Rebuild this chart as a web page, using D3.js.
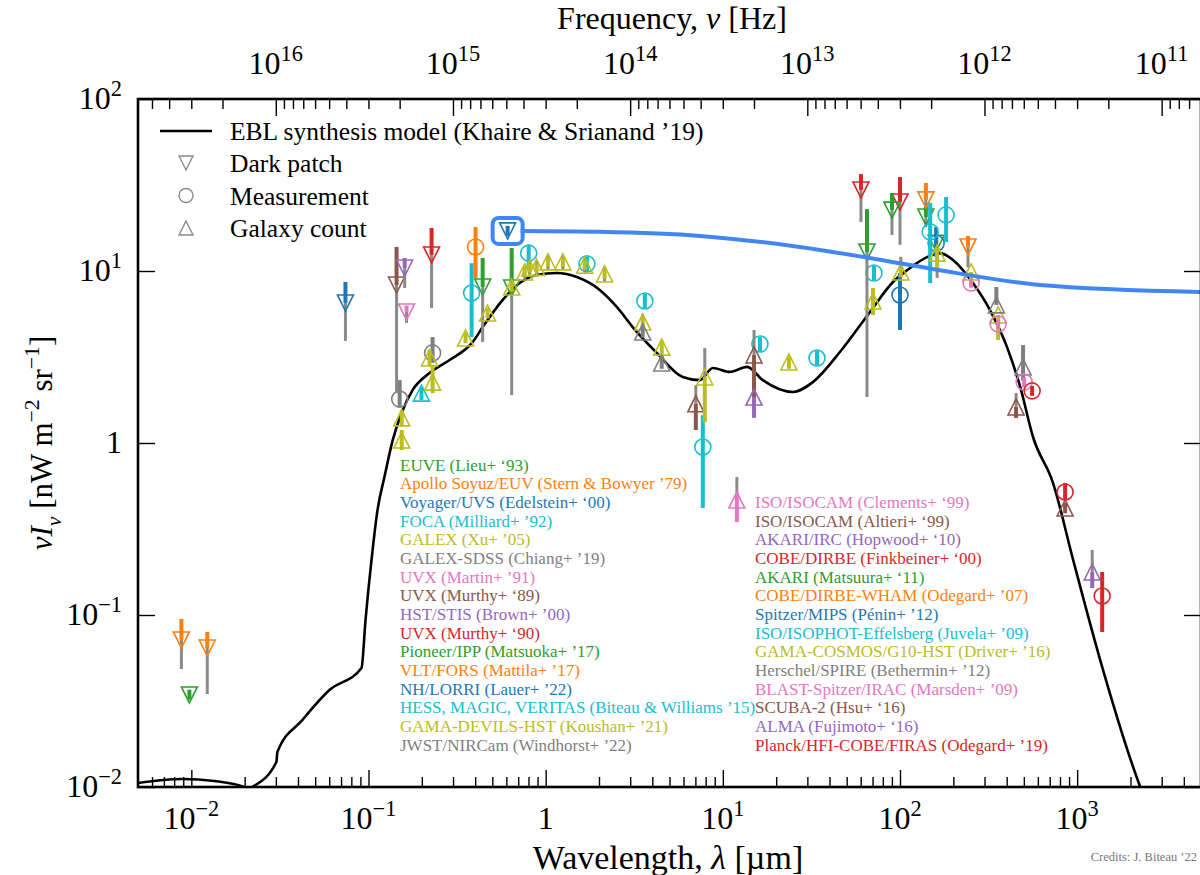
<!DOCTYPE html>
<html>
<head>
<meta charset="utf-8">
<script src="https://cdn.jsdelivr.net/npm/d3@7"></script>
<style>
  body { margin: 0; background: #fff; }
  svg text { font-family: "Liberation Serif", "DejaVu Serif", serif; }
</style>
</head>
<body>
<svg id="chart" width="1200" height="875"></svg>
<script>
// EBL synthesis model (Khaire & Srianand '19): wavelength [µm] / nuInu [nW m^-2 sr^-1]
const modelLambda = [0.00495, 0.00889, 0.0135, 0.0199, 0.021, 0.0221, 0.0302, 0.0306, 0.0424, 0.0602,
  0.0913, 0.0962, 0.104, 0.1124, 0.123, 0.137, 0.1536, 0.1773, 0.221, 0.287, 0.387, 0.441, 0.571,
  0.713, 0.889, 1.154, 1.50, 2.02, 2.52, 3.10, 4.24, 5.94, 7.41, 8.78, 10.96, 13.7, 16.8, 24.9, 32.2,
  45.8, 67.7, 91.3, 109.6, 142, 168, 199, 258, 322, 402, 477, 564, 731, 949, 1349, 2270, 2600];
const modelValues = [0.01054, 0.01114, 0.01084, 0.0100, 0.0097, 0.0100, 0.01397, 0.01596, 0.02455, 0.0366,
  0.0492, 0.0935, 0.209, 0.407, 0.634, 1.04, 1.49, 2.03, 2.55, 3.04, 3.86, 4.72, 6.78,
  8.51, 9.48, 9.73, 9.22, 7.76, 6.18, 4.72, 3.34, 2.42, 2.32, 2.73, 2.59, 2.77, 2.32, 1.98, 2.26,
  3.38, 5.78, 8.63, 10.1, 12.05, 12.7, 11.6, 8.51, 5.93, 3.61, 2.12, 1.08, 0.585, 0.209, 0.0547, 0.0100, 0.0070];

// highlight track leaving the NH/LORRI point
const trackLambda = [0.722, 2.02, 7.41, 27.2, 100, 168, 618, 5000];
const trackValues = [17.1, 16.9, 16.0, 13.8, 11.1, 10.1, 8.29, 7.55];

// points: [lambda, value, statLow, statHigh, sysLow, sysHigh]
const euveLieu93 = [[0.00975, 0.0343, 0.0322, 0.0368, null, null]];
const apolloStern79 = [[0.00879, 0.0716, 0.0716, 0.0948, 0.0485, 0.0716], [0.0123, 0.0643, 0.0643, 0.0797, 0.0347, 0.0643]];
const voyagerEdelstein00 = [[0.0741, 6.52, 6.52, 8.63, 3.92, 6.52]];
const focaMilliard92 = [[0.199, 1.95, 1.78, 2.10, null, null]];
const galexXu05 = [[0.154, 1.04, 0.91, 1.19, null, null], [0.230, 2.26, 1.95, 2.84, null, null]];
const galexSdssChiang19 = [[0.150, 1.80, 1.62, 2.32, null, null], [0.230, 3.34, 2.92, 4.13, null, null]];
const uvxMartin91 = [[0.164, 5.78, 5.78, 6.30, 4.99, 5.78]];
const uvxMurthy89 = [[0.144, 8.29, 8.29, 13.8, 1.95, 8.29]];
const stisBrown00 = [[0.160, 10.4, 10.4, 11.9, 7.96, 10.4]];
const uvxMurthy90 = [[0.227, 12.4, 12.4, 17.8, 6.09, 12.4]];
const pioneerMatsuoka17 = [[0.441, 8.07, 8.07, 11.9, 3.87, 8.07], [0.643, 7.96, 7.96, 13.6, 1.90, 7.96]];
const forsMattila17 = [[0.402, 13.8, 9.11, 18.0, null, null]];
const lorriLauer22 = [[0.610, 17.1, 16.0, 18.3, null, null]];
const gammaBiteau15 = [[0.382, 7.45, 4.13, 11.1, null, null], [0.802, 12.7, 10.4, 14.2, null, null],
  [1.71, 11.0, 10.0, 12.1, null, null], [3.63, 6.69, 6.10, 7.35, null, null], [7.71, 0.948, 0.419, 1.45, null, null],
  [16.2, 3.76, 3.42, 4.13, null, null], [34.0, 3.12, 2.84, 3.43, null, null], [71.3, 9.73, 8.86, 10.7, null, null]];
const devilsKoushan21 = [[0.154, 1.40, 1.25, 1.55, null, null], [0.221, 3.12, 2.80, 3.50, null, null],
  [0.353, 4.08, 3.80, 4.40, null, null], [0.470, 5.70, 5.30, 6.10, null, null], [0.761, 9.87, 9.30, 10.5, 9.00, 10.6],
  [0.889, 10.5, 9.90, 11.1, 9.50, 11.5], [1.25, 11.3, 10.6, 12.0, 10.2, 12.4], [2.15, 9.61, 9.00, 10.2, 8.70, 10.6],
  [3.53, 5.05, 4.70, 5.40, 4.60, 5.60], [4.52, 3.61, 3.30, 3.90, null, null]];
const nircamWindhorst22 = [[3.53, 4.42, 4.10, 4.80, null, null], [4.52, 2.92, 2.70, 3.20, null, null]];
const isocamClements99 = [[12.0, 0.466, 0.347, 0.512, 0.512, 0.634]];
const isocamAltieri99 = [[7.04, 1.69, 1.19, 1.69, 1.69, 2.17], [15.0, 3.25, 1.85, 3.25, 3.25, 4.54]];
const ircHopwood10 = [[15.0, 1.85, 1.40, 1.85, null, null]];
const dirbeFinkbeiner00 = [[60.2, 29.6, 29.6, 36.6, 19.3, 29.6], [100, 25.2, 25.2, 35.2, 14.2, 25.2]];
const akariMatsuura11 = [[65.1, 12.9, 12.9, 22.9, 1.85, 12.9], [90.1, 22.6, 22.6, 28.4, 16.2, 22.6],
  [140, 20.6, 20.6, 24.9, 18.0, 20.6], [160, 14.5, 14.5, 16.5, null, null]];
const whamOdegard07 = [[140, 25.9, 25.9, 32.5, 23.5, 25.9], [242, 13.8, 13.8, 16.0, 10.5, 13.8]];
const mipsPenin12 = [[100, 7.25, 4.54, 9.73, null, null], [160, 14.5, 12.1, 18.0, null, null]];
const isophotJuvela09 = [[148, 16.9, 8.51, 24.9, null, null], [182, 21.2, 14.7, 26.9, null, null]];
const g10Driver16 = [[0.643, 8.07, 7.60, 8.60, null, null], [0.812, 10.4, 9.80, 11.0, 9.60, 11.2],
  [1.03, 11.3, 10.6, 12.0, 10.2, 12.4], [1.66, 10.8, 10.1, 11.5, 9.80, 11.9], [7.91, 2.42, 1.32, 2.42, 2.42, 3.57],
  [23.6, 2.96, 2.70, 3.20, null, null], [70.4, 6.69, 5.55, 7.96, null, null], [101, 9.87, 9.20, 10.5, 9.87, 12.1],
  [162, 12.7, 10.4, 13.6, 9.11, 12.7], [252, 9.87, 8.07, 9.87, null, null], [358, 5.55, 3.97, 5.55, null, null]];
const spireBethermin12 = [[350, 6.35, 6.35, 8.07, null, null], [495, 2.77, 2.30, 3.71, null, null]];
const blastMarsden09 = [[252, 8.51, 8.00, 9.00, null, null], [358, 4.92, 4.60, 5.20, null, null], [502, 2.26, 2.10, 2.40, null, null]];
const scubaHsu16 = [[452, 1.62, 1.40, 1.62, 1.62, 1.95], [855, 0.419, 0.390, 0.450, null, null]];
const almaFujimoto16 = [[1216, 0.178, 0.1435, 0.178, 0.178, 0.239]];
const planckOdegard19 = [[557, 2.01, 1.88, 2.15, null, null], [855, 0.519, 0.466, 0.585, null, null], [1384, 0.129, 0.0797, 0.178, null, null]];

const seriesNames = [
  'EUVE (Lieu+ ‘93)', 'Apollo Soyuz/EUV (Stern & Bowyer ’79)', 'Voyager/UVS (Edelstein+ ‘00)',
  'FOCA (Milliard+ ’92)', 'GALEX (Xu+ ’05)', 'GALEX-SDSS (Chiang+ ’19)', 'UVX (Martin+ ’91)',
  'UVX (Murthy+ ‘89)', 'HST/STIS (Brown+ ’00)', 'UVX (Murthy+ ‘90)', 'Pioneer/IPP (Matsuoka+ ’17)',
  'VLT/FORS (Mattila+ ’17)', 'NH/LORRI (Lauer+ ’22)', 'HESS, MAGIC, VERITAS (Biteau & Williams ’15)',
  'GAMA-DEVILS-HST (Koushan+ ’21)', 'JWST/NIRCam (Windhorst+ ’22)',
  'ISO/ISOCAM (Clements+ ‘99)', 'ISO/ISOCAM (Altieri+ ‘99)', 'AKARI/IRC (Hopwood+ ‘10)',
  'COBE/DIRBE (Finkbeiner+ ‘00)', 'AKARI (Matsuura+ ‘11)', 'COBE/DIRBE-WHAM (Odegard+ ’07)',
  'Spitzer/MIPS (Pénin+ ’12)', 'ISO/ISOPHOT-Effelsberg (Juvela+ ’09)', 'GAMA-COSMOS/G10-HST (Driver+ ’16)',
  'Herschel/SPIRE (Bethermin+ ’12)', 'BLAST-Spitzer/IRAC (Marsden+ ’09)', 'SCUBA-2 (Hsu+ ‘16)',
  'ALMA (Fujimoto+ ‘16)', 'Planck/HFI-COBE/FIRAS (Odegard+ ’19)'];
// v = dark patch (upper limit), o = measurement, ^ = galaxy count (lower limit)
const seriesKinds = ['v', 'v', 'v', '^', '^', 'o', 'v', 'v', 'v', 'v', 'v', 'o', 'v', 'o', '^', '^',
  '^', '^', '^', 'v', 'v', 'v', 'o', 'o', '^', '^', 'o', '^', '^', 'o'];
const seriesPoints = [euveLieu93, apolloStern79, voyagerEdelstein00, focaMilliard92, galexXu05,
  galexSdssChiang19, uvxMartin91, uvxMurthy89, stisBrown00, uvxMurthy90, pioneerMatsuoka17,
  forsMattila17, lorriLauer22, gammaBiteau15, devilsKoushan21, nircamWindhorst22,
  isocamClements99, isocamAltieri99, ircHopwood10, dirbeFinkbeiner00, akariMatsuura11,
  whamOdegard07, mipsPenin12, isophotJuvela09, g10Driver16, spireBethermin12, blastMarsden09,
  scubaHsu16, almaFujimoto16, planckOdegard19];

const legendKinds = ['Dark patch', 'Measurement', 'Galaxy count'];
const lamTickLabels = ['10^−2', '10^−1', '1', '10^1', '10^2', '10^3'];
const lamTicks = [1e-2, 1e-1, 1, 10, 100, 1000];
const nuTickLabels = ['10^16', '10^15', '10^14', '10^13', '10^12', '10^11'];
const nuTicks = [1e16, 1e15, 1e14, 1e13, 1e12, 1e11];
const yTickLabels = ['10^−2', '10^−1', '1', '10^1', '10^2'];
const yTicks = [1e-2, 1e-1, 1, 10, 100];

// ---- layout
const box = { left: 138, right: 1201, top: 99, bottom: 787 };
const palette = ['#2ca02c', '#ff7f0e', '#1f77b4', '#17becf', '#bcbd22', '#7f7f7f', '#e377c2', '#8c564b', '#9467bd', '#d62728'];
const sysColor = '#8a8a8a';
const C_UM = 2.998e14; // speed of light, µm/s
const tickFont = 32;

const svg = d3.select('#chart');

const x = d3.scaleLog().domain([5e-3, 5e3]).range([box.left, box.right]);
const y = d3.scaleLog().domain([1e-2, 1e2]).range([box.bottom, box.top]);
const xNu = d3.scaleLog().domain([C_UM / 5e-3, C_UM / 5e3]).range([box.left, box.right]);

svg.append('clipPath').attr('id', 'plot-clip')
  .append('rect')
  .attr('x', box.left).attr('y', box.top)
  .attr('width', box.right - box.left).attr('height', box.bottom - box.top);

// rich text helper: parts with sup/sub/italic
function richText(sel, parts) {
  let shift = 0;
  parts.forEach(p => {
    const target = p.sup ? -0.42 : p.sub ? 0.28 : 0;
    const fs = (p.sup || p.sub) ? 0.7 : 1;
    const ts = sel.append('tspan').text(p.t);
    if (p.it) ts.attr('font-style', 'italic');
    if (fs !== 1) ts.attr('font-size', '70%');
    if (target !== shift) ts.attr('dy', ((target - shift) / fs).toFixed(3) + 'em');
    shift = target;
  });
}
function powParts(label) {
  const [b, e] = label.split('^');
  return e ? [{ t: b }, { t: e, sup: true }] : [{ t: b }];
}

// ---- minor tick values
const lamMinor = [];
for (let e = -3; e <= 3; e++) for (let m = 2; m <= 9; m++) {
  const v = m * Math.pow(10, e);
  if (v > 5e-3 && v < 5e3) lamMinor.push(v);
}
const nuMinor = [];
for (let e = 10; e <= 16; e++) for (let m = 2; m <= 9; m++) {
  const v = m * Math.pow(10, e);
  if (v < C_UM / 5e-3 && v > C_UM / 5e3) nuMinor.push(v);
}

function styleAxis(g) {
  g.select('.domain').remove();
  g.selectAll('.tick line').attr('stroke', '#000').attr('stroke-width', 1.4);
}

// bottom
svg.append('g').attr('transform', `translate(0,${box.bottom})`)
  .call(d3.axisBottom(x).tickValues(lamTicks).tickSizeInner(-17).tickSizeOuter(0).tickFormat(''))
  .call(styleAxis);
svg.append('g').attr('transform', `translate(0,${box.bottom})`)
  .call(d3.axisBottom(x).tickValues(lamMinor).tickSizeInner(-10).tickSizeOuter(0).tickFormat(''))
  .call(styleAxis);
// top
svg.append('g').attr('transform', `translate(0,${box.top})`)
  .call(d3.axisTop(xNu).tickValues(nuTicks).tickSizeInner(-17).tickSizeOuter(0).tickFormat(''))
  .call(styleAxis);
svg.append('g').attr('transform', `translate(0,${box.top})`)
  .call(d3.axisTop(xNu).tickValues(nuMinor).tickSizeInner(-10).tickSizeOuter(0).tickFormat(''))
  .call(styleAxis);
// left / right
svg.append('g').attr('transform', `translate(${box.left},0)`)
  .call(d3.axisLeft(y).tickValues(yTicks).tickSizeInner(-17).tickSizeOuter(0).tickFormat(''))
  .call(styleAxis);
svg.append('g').attr('transform', `translate(${box.right},0)`)
  .call(d3.axisRight(y).tickValues(yTicks).tickSizeInner(-17).tickSizeOuter(0).tickFormat(''))
  .call(styleAxis);

// tick labels
lamTicks.forEach((v, i) => {
  const t = svg.append('text').attr('x', x(v)).attr('y', 829)
    .attr('text-anchor', 'middle').attr('font-size', tickFont);
  richText(t, powParts(lamTickLabels[i]));
});
nuTicks.forEach((v, i) => {
  const t = svg.append('text').attr('x', xNu(v)).attr('y', 74)
    .attr('text-anchor', 'middle').attr('font-size', tickFont);
  richText(t, powParts(nuTickLabels[i]));
});
yTicks.forEach((v, i) => {
  const t = svg.append('text').attr('x', 122).attr('y', y(v) + 10)
    .attr('text-anchor', 'end').attr('font-size', tickFont);
  richText(t, powParts(yTickLabels[i]));
});

// axis titles
richText(svg.append('text').attr('x', 668).attr('y', 869).attr('text-anchor', 'middle').attr('font-size', 34),
  [{ t: 'Wavelength, ' }, { t: 'λ', it: true }, { t: ' [µm]' }]);
richText(svg.append('text').attr('x', 672).attr('y', 29).attr('text-anchor', 'middle').attr('font-size', 32),
  [{ t: 'Frequency, ' }, { t: 'ν', it: true }, { t: ' [Hz]' }]);
richText(svg.append('text').attr('transform', 'translate(52,443) rotate(-90)').attr('text-anchor', 'middle').attr('font-size', 31),
  [{ t: 'ν', it: true }, { t: 'I', it: true }, { t: 'ν', it: true, sub: true }, { t: ' [nW m' }, { t: '−2', sup: true },
   { t: ' sr' }, { t: '−1', sup: true }, { t: ']' }]);

svg.append('text').attr('x', 1197).attr('y', 861).attr('text-anchor', 'end')
  .attr('font-size', 12.5).attr('fill', '#777').text('Credits: J. Biteau ’22');

// ---- model curve
const line = d3.line().x(d => x(d[0])).y(d => y(d[1])).curve(d3.curveMonotoneX);
svg.append('path')
  .datum(modelLambda.map((l, i) => [l, modelValues[i]]))
  .attr('clip-path', 'url(#plot-clip)')
  .attr('d', line)
  .attr('fill', 'none').attr('stroke', '#000').attr('stroke-width', 2.6);

// ---- markers
function markerPath(kind, s) {
  if (kind === 'v') return `M${-s},${-s}L${s},${-s}L0,${s}Z`;
  if (kind === '^') return `M0,${-s}L${s},${s}L${-s},${s}Z`;
  return d3.arc()({ innerRadius: 0, outerRadius: s, startAngle: 0, endAngle: 2 * Math.PI });
}

const dataLayer = svg.append('g').attr('clip-path', 'url(#plot-clip)');
seriesPoints.forEach((pts, i) => {
  const col = palette[i % palette.length];
  const g = dataLayer.append('g');
  g.selectAll('line.sys').data(pts.filter(p => p[4] != null)).join('line')
    .attr('class', 'sys')
    .attr('x1', p => x(p[0])).attr('x2', p => x(p[0]))
    .attr('y1', p => y(p[4])).attr('y2', p => y(p[5]))
    .attr('stroke', sysColor).attr('stroke-width', 3);
  g.selectAll('line.stat').data(pts.filter(p => p[2] != null)).join('line')
    .attr('class', 'stat')
    .attr('x1', p => x(p[0])).attr('x2', p => x(p[0]))
    .attr('y1', p => y(p[2])).attr('y2', p => y(p[3]))
    .attr('stroke', col).attr('stroke-width', 4);
  g.selectAll('path.mk').data(pts).join('path')
    .attr('class', 'mk')
    .attr('transform', p => `translate(${x(p[0])},${y(p[1])})`)
    .attr('d', markerPath(seriesKinds[i], 8))
    .attr('fill', 'none').attr('stroke', col).attr('stroke-width', 1.6);
});

// ---- highlight on NH/LORRI
const hl = lorriLauer22[0];
const hx = x(hl[0]), hy = y(hl[1]);
svg.append('path')
  .datum(trackLambda.map((l, i) => [l, trackValues[i]]))
  .attr('clip-path', 'url(#plot-clip)')
  .attr('d', d3.line().x(d => x(d[0])).y(d => y(d[1])).curve(d3.curveMonotoneX))
  .attr('fill', 'none').attr('stroke', '#4286f2').attr('stroke-width', 4);
svg.append('rect')
  .attr('x', hx - 15).attr('y', hy - 13).attr('width', 30).attr('height', 26).attr('rx', 6)
  .attr('fill', 'none').attr('stroke', '#4286f2').attr('stroke-width', 4);

// ---- frame
svg.append('rect')
  .attr('x', box.left).attr('y', box.top)
  .attr('width', box.right - box.left).attr('height', box.bottom - box.top)
  .attr('fill', 'none').attr('stroke', '#000').attr('stroke-width', 2.6);

// ---- top-left legend
const lg = svg.append('g');
lg.append('line').attr('x1', 160).attr('x2', 212).attr('y1', 131).attr('y2', 131)
  .attr('stroke', '#000').attr('stroke-width', 2.6);
lg.append('text').attr('x', 230).attr('y', 140).attr('font-size', 25.5)
  .text('EBL synthesis model (Khaire & Srianand ’19)');
['v', 'o', '^'].forEach((k, i) => {
  const cy = 163 + i * 32.5;
  lg.append('path').attr('transform', `translate(186,${cy})`)
    .attr('d', markerPath(k, 7))
    .attr('fill', 'none').attr('stroke', '#8a8a8a').attr('stroke-width', 1.4);
  lg.append('text').attr('x', 230).attr('y', cy + 9).attr('font-size', 25.5).text(legendKinds[i]);
});

// ---- reference legend (two columns)
const rowH = 18.67;
seriesNames.forEach((name, i) => {
  const col = i < 16 ? 0 : 1;
  const row = col === 0 ? i : i - 16 + 2;
  svg.append('text')
    .attr('x', col === 0 ? 400 : 755)
    .attr('y', 465 + row * rowH + 5.5)
    .attr('font-size', 17)
    .attr('fill', palette[i % palette.length])
    .text(name);
});
</script>
</body>
</html>
